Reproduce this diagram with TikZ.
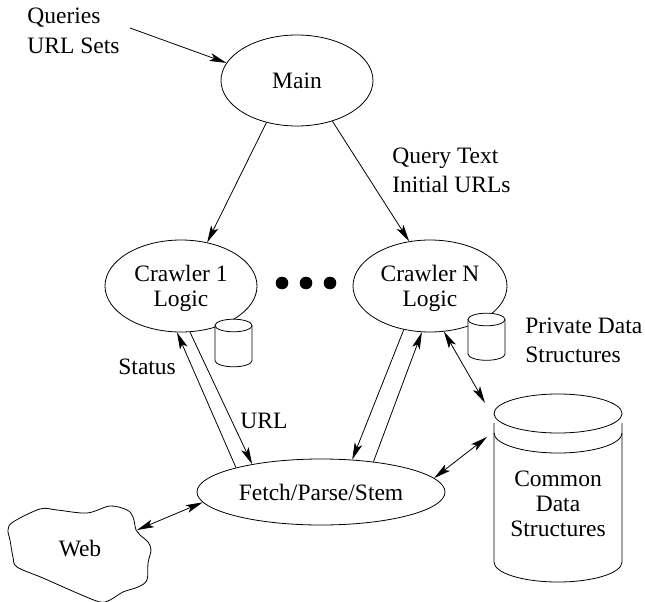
\documentclass[tikz,border=0pt]{standalone}
\usepackage{fontspec}
\setmainfont{Liberation Serif}
\usetikzlibrary{shapes.geometric,arrows.meta}
\begin{document}
\begin{tikzpicture}[x=1pt,y=1pt,yscale=-1,
  line width=0.8pt,
  every node/.style={font=\fontsize{23.5}{24.5}\selectfont},
  proc/.style={ellipse,draw,inner sep=0pt,align=center},
  lbl/.style={align=left,anchor=base west,inner sep=0pt,
    font=\fontsize{23.5}{29}\selectfont},
  oneway/.style={-{Stealth[length=17pt,width=8pt,inset=4pt]}},
  twoway/.style={{Stealth[length=17pt,width=8pt,inset=4pt]}-{Stealth[length=17pt,width=8pt,inset=4pt]}},
  db/.style={draw,fill=white}]
\useasboundingbox (0,0) rectangle (645,602);

% processes
\node[proc,minimum width=152pt,minimum height=91pt] (main) at (297,80.5) {Main};
\node[proc,minimum width=152pt,minimum height=92pt,text depth=0pt] (c1) at (181,286) {Crawler 1\\Logic};
\node[proc,minimum width=154pt,minimum height=92pt,text depth=0pt] (cn) at (430,286) {Crawler N\\Logic};
\node[proc,minimum width=248pt,minimum height=66pt] (fps) at (321,492) {Fetch/Parse/Stem};

% ellipsis between the crawlers
\foreach \x in {282,306,330} \fill (\x,283) circle[radius=6.3];

% private data stores
\filldraw[db] (215,325.5) -- (215,360.5) arc[start angle=180,end angle=0,x radius=18.5,y radius=6.3] -- (252,325.5);
\draw[db] (233.5,325.5) ellipse[x radius=18.5,y radius=6.3];
\filldraw[db] (468,319.5) -- (468,354) arc[start angle=180,end angle=0,x radius=18.5,y radius=6.3] -- (505,319.5);
\draw[db] (486.5,319.5) ellipse[x radius=18.5,y radius=6.3];

% common data store
\filldraw[db] (494,423) -- (494,562) arc[start angle=180,end angle=0,x radius=64,y radius=20] -- (622,423);
\draw (558,413.5) ellipse[x radius=64,y radius=19.5];
\draw (494,433) arc[start angle=180,end angle=0,x radius=64,y radius=20];
\node[align=center,font=\fontsize{23.5}{25}\selectfont] (common) at (558,504) {Common\\Data\\Structures};
\coordinate (cdtop) at (485,403);
\coordinate (cdmid) at (487,437);

% the web
\draw plot[smooth cycle,tension=0.55] coordinates {
  (8,530) (13,522) (40,509) (57,510) (87,513) (110,506) (127,510) (133,517)
  (136,530) (140,535) (148,542) (151,550) (148,563) (147,580) (138,587)
  (123,592) (110,600) (100,602) (77,593) (43,578) (17,567) (13,557) (10,540)};
\node (web) at (80,549) {Web};
\coordinate (webport) at (137,530);

% labels (anchored on the baseline of their last line)
\node[lbl] (qin) at (27,53) {Queries\\URL Sets};
\node[lbl] (qtext) at (392,192) {Query Text\\Initial URLs};
\node[lbl] (priv) at (525,362) {Private Data\\Structures};
\node[lbl] (status) at (118,374) {Status};
\node[lbl] (url) at (240,428) {URL};
\coordinate (qport) at (130,28);

% connectors
\draw[oneway] (qport) -- (main.166);
\draw[oneway] (main.-126) -- (c1.59);
\draw[oneway] (main.-49) -- (cn.115);
\draw[oneway] (fps.164) -- (c1.-95);
\draw[oneway] (c1.-79) -- (fps.158);
\draw[oneway] (cn.-121) -- (fps.46);
\draw[oneway] (fps.30) -- (cn.-100);
\draw[twoway] (cn.-73) -- (cdtop);
\draw[twoway] (fps.7) -- (cdmid);
\draw[twoway] (webport) -- (fps.-175);
\end{tikzpicture}
\end{document}
